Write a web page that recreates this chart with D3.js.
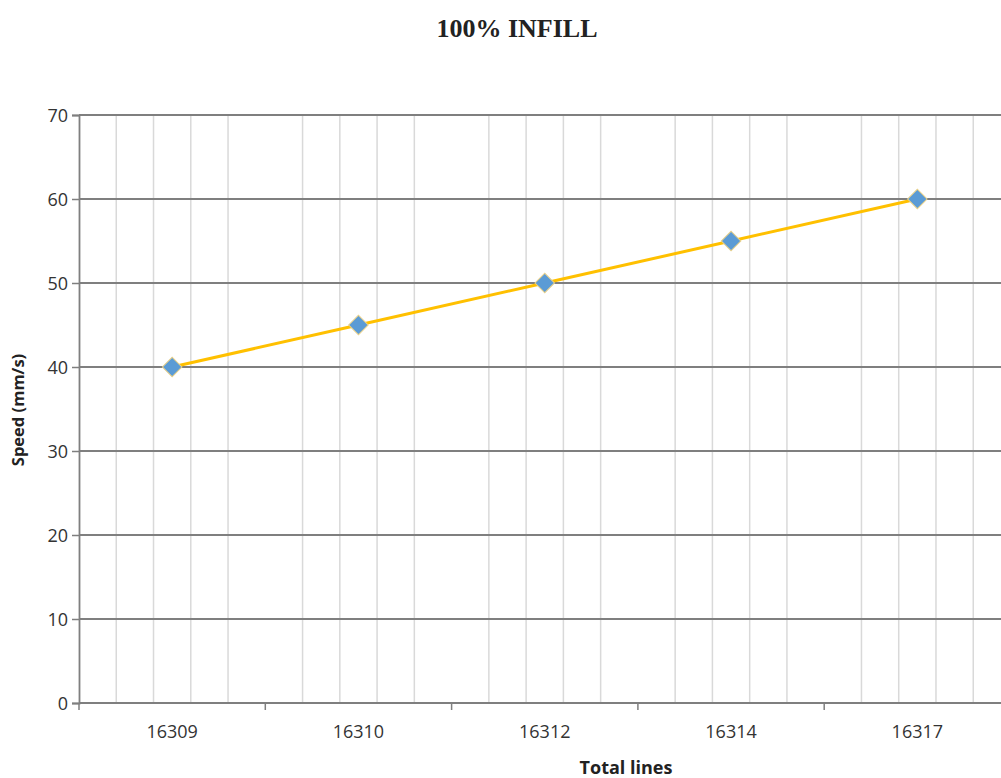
<!DOCTYPE html>
<html>
<head>
<meta charset="utf-8">
<script src="https://cdn.jsdelivr.net/npm/d3@7"></script>
<style>
  body { margin: 0; background: #fff; }
  svg { display: block; }
</style>
</head>
<body>
<div id="chart"></div>
<script>
let w = 1001;
let h = 778;

// data
let categories = ["16309", "16310", "16312", "16314", "16317"];
let speeds = [40, 45, 50, 55, 60];
let yTicks = [0, 10, 20, 30, 40, 50, 60, 70];

let plotLeft = 79;
let plotTop = 115;
let plotBottom = 703;
let plotRight = 1010.5; // the source image is cropped on the right

let svg = d3.select("#chart").append("svg")
  .attr("width", w)
  .attr("height", h);

let x = d3.scaleBand()
  .domain(categories)
  .range([plotLeft, plotRight]);

let y = d3.scaleLinear()
  .domain([0, 70])
  .range([plotBottom, plotTop]);

// minor vertical gridlines, 5 per category, skipping the band edges
let minor = [];
categories.forEach(c => {
  for (let k = 1; k < 5; k++) minor.push(x(c) + x.bandwidth() * k / 5);
});
svg.append("g").selectAll("line").data(minor).enter()
  .append("line")
  .attr("x1", d => d).attr("x2", d => d)
  .attr("y1", plotTop).attr("y2", plotBottom)
  .attr("stroke", "#d9d9d9")
  .attr("stroke-width", 1.5);

// horizontal gridlines
svg.append("g").selectAll("line").data(yTicks).enter()
  .append("line")
  .attr("x1", plotLeft).attr("x2", w)
  .attr("y1", d => y(d)).attr("y2", d => y(d))
  .attr("stroke", "#7f7f7f")
  .attr("stroke-width", 1.8);

// y axis
let yAxis = svg.append("g")
  .attr("transform", "translate(" + plotLeft + ",0)")
  .call(d3.axisLeft(y).tickValues(yTicks).tickSize(7).tickPadding(4));
yAxis.select(".domain").attr("stroke", "#7f7f7f").attr("stroke-width", 1.8);
yAxis.selectAll(".tick line").attr("stroke", "#7f7f7f").attr("stroke-width", 1.5);
yAxis.selectAll(".tick text")
  .attr("font-family", "Open Sans, sans-serif")
  .attr("font-size", 18)
  .attr("dy", "0.34em")
  .attr("fill", "#333");

// x axis with ticks at band edges
let edges = categories.map(c => x(c)).concat([plotRight]);
let xg = svg.append("g");
xg.append("line")
  .attr("x1", plotLeft).attr("x2", w)
  .attr("y1", plotBottom).attr("y2", plotBottom)
  .attr("stroke", "#7f7f7f").attr("stroke-width", 1.8);
xg.selectAll(".xt").data(edges).enter()
  .append("line")
  .attr("class", "xt")
  .attr("x1", d => d).attr("x2", d => d)
  .attr("y1", plotBottom).attr("y2", plotBottom + 7)
  .attr("stroke", "#7f7f7f").attr("stroke-width", 1.5);
xg.selectAll("text").data(categories).enter()
  .append("text")
  .attr("x", d => x(d) + x.bandwidth() / 2)
  .attr("y", 738)
  .attr("text-anchor", "middle")
  .attr("font-family", "Open Sans, sans-serif")
  .attr("font-size", 18)
  .attr("fill", "#333")
  .text(d => d);

// line
let line = d3.line()
  .x((d, i) => x(categories[i]) + x.bandwidth() / 2)
  .y(d => y(d));
svg.append("path")
  .datum(speeds)
  .attr("d", line)
  .attr("fill", "none")
  .attr("stroke", "#ffc000")
  .attr("stroke-width", 3);

// diamond markers
svg.append("g").selectAll("path").data(speeds).enter()
  .append("path")
  .attr("d", d3.symbol().type(d3.symbolSquare).size(190))
  .attr("transform", (d, i) => "translate(" + (x(categories[i]) + x.bandwidth() / 2) + "," + y(d) + ") rotate(45)")
  .attr("fill", "#5b9bd5")
  .attr("stroke", "#e8d08a")
  .attr("stroke-width", 1);

// title
svg.append("text")
  .attr("x", 517)
  .attr("y", 37)
  .attr("text-anchor", "middle")
  .attr("font-family", "Liberation Serif, Times New Roman, serif")
  .attr("font-weight", "bold")
  .attr("font-size", 26)
  .attr("fill", "#222")
  .text("100% INFILL");

// axis titles
svg.append("text")
  .attr("x", 626)
  .attr("y", 774)
  .attr("text-anchor", "middle")
  .attr("font-family", "Open Sans, sans-serif")
  .attr("font-weight", "bold")
  .attr("font-size", 18)
  .attr("fill", "#222")
  .text("Total lines");

svg.append("text")
  .attr("transform", "translate(24,410) rotate(-90)")
  .attr("text-anchor", "middle")
  .attr("font-family", "Open Sans, sans-serif")
  .attr("font-weight", "bold")
  .attr("font-size", 16.5)
  .attr("fill", "#222")
  .text("Speed (mm/s)");
</script>
</body>
</html>
